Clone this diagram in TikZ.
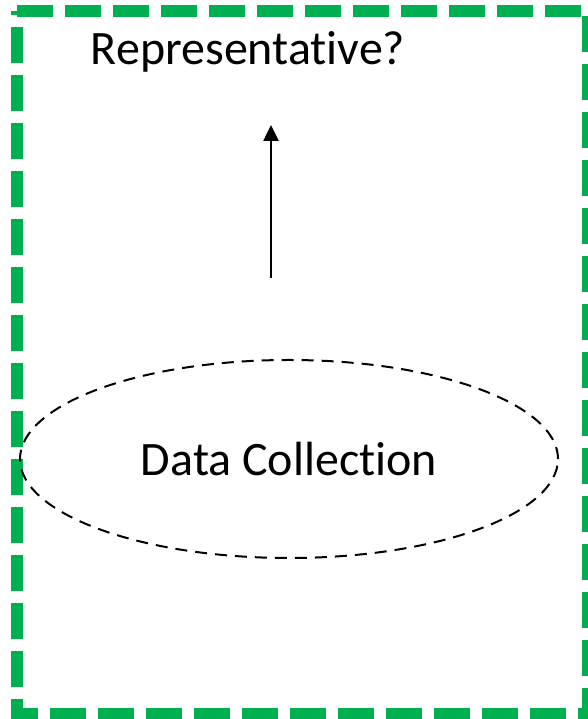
\documentclass[tikz,border=0pt]{standalone}
\usepackage{fontspec}
\setmainfont[Ligatures=NoCommon]{Carlito}
\usetikzlibrary{shapes.geometric,arrows.meta}
\definecolor{officegreen}{RGB}{0,176,80}
\begin{document}
\begin{tikzpicture}[x=1pt,y=1pt,font=\fontsize{48}{54}\selectfont]
  \useasboundingbox (0,0) rectangle (587,719);
  % frame
  \draw[officegreen,line width=12pt,dash pattern=on 36pt off 12pt] (17,708) -- (588,708) -- (588,5) -- (17,5) -- cycle;
  % nodes
  \node[draw,line width=2pt,dash pattern=on 12pt off 8pt,ellipse,minimum width=538pt,minimum height=198pt,inner sep=0pt] (collect) at (289,260) {Data Collection};
  \node (question) at (248,667) {Representative?};
  % arrow
  \coordinate (foot) at (271,441);
  \coordinate (tip) at (271,594);
  \draw[line width=2.5pt,-{Triangle[width=15pt,length=16pt]}] (foot) -- (tip);
\end{tikzpicture}
\end{document}
